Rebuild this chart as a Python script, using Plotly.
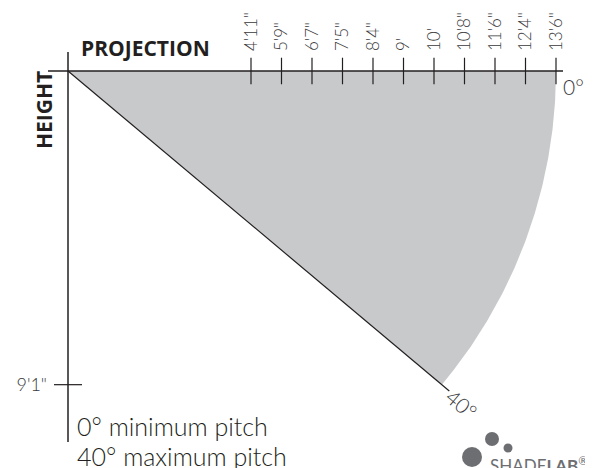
import numpy as np
import plotly.graph_objects as go

# ---- data ----
min_pitch = 0      # degrees
max_pitch = 40     # degrees
projection_labels = ["4'11\"", "5'9\"", "6'7\"", "7'5\"", "8'4\"", "9'", "10'",
                     "10'8\"", "11'6\"", "12'4\"", "13'6\""]
projection_ticks = [0.375, 0.4375, 0.5, 0.5625, 0.625, 0.6875, 0.75,
                    0.8125, 0.875, 0.9375, 1.0]   # fraction of full projection
height_labels = ["9'1\""]
height_ticks = [float(np.sin(np.radians(max_pitch)))]

OFF = 8                     # default page body margin
PW, PH = 593, 468           # page size
W, H = PW - OFF, PH - OFF   # figure size
# plot area in page pixels
PL, PR, PT, PB = 48, 563, 52, 442
L, T = PL - OFF, PT - OFF
R, B = W - (PR - OFF), H - (PB - OFF)
SCALE = 488.0  # px per unit
ox, oy = 68, 71  # origin, page pixels

def px(x):
    return (x - PL) / (PR - PL)

def py(y):
    return (PB - y) / (PB - PT)

xr = [(PL - ox) / SCALE, (PR - ox) / SCALE]
yr = [(PB - oy) / SCALE, (PT - oy) / SCALE]

fig = go.Figure()

# shaded sector
ang = np.radians(np.linspace(min_pitch, max_pitch, 120))
sx = np.concatenate([[0], np.cos(ang), [0]])
sy = np.concatenate([[0], np.sin(ang), [0]])
fig.add_trace(go.Scatter(x=sx, y=sy, mode="lines", fill="toself",
                         fillcolor="#c8c9cb", line=dict(width=0),
                         hoverinfo="skip", showlegend=False))

# max pitch line
a = np.radians(max_pitch)
fig.add_trace(go.Scatter(x=[0, 1.02 * np.cos(a)], y=[0, 1.02 * np.sin(a)],
                         mode="lines", line=dict(color="#231f20", width=1.2),
                         hoverinfo="skip", showlegend=False))

# tick marks crossing axes
fig.add_trace(go.Scatter(x=projection_ticks, y=[0] * len(projection_ticks),
                         mode="markers",
                         marker=dict(symbol="line-ns", size=19,
                                     line=dict(color="#231f20", width=1.2)),
                         hoverinfo="skip", showlegend=False, cliponaxis=False))
fig.add_trace(go.Scatter(x=[0] * len(height_ticks), y=height_ticks,
                         mode="markers",
                         marker=dict(symbol="line-ew", size=20,
                                     line=dict(color="#231f20", width=1.2)),
                         hoverinfo="skip", showlegend=False, cliponaxis=False))

# axis lines
fig.add_shape(type="line", xref="paper", yref="y", x0=0, x1=1, y0=0, y1=0,
              line=dict(color="#231f20", width=1.5), layer="above")
fig.add_shape(type="line", xref="x", yref="paper", x0=0, x1=0, y0=0, y1=1,
              line=dict(color="#231f20", width=1.5), layer="above")

thin = dict(family="Lato", size=17, color="#3a3a3c", weight=300)

fig.update_xaxes(range=xr, side="top", showgrid=False, zeroline=False,
                 showline=False, tickmode="array", tickvals=projection_ticks,
                 ticktext=projection_labels, tickangle=-90, ticks="",
                 tickfont=thin, automargin=False, fixedrange=True)
fig.update_yaxes(range=yr, showgrid=False, zeroline=False, showline=False,
                 tickmode="array", tickvals=height_ticks, ticktext=height_labels,
                 ticks="", tickfont=dict(family="Lato", size=18, color="#3a3a3c", weight=300),
                 automargin=False, fixedrange=True)

bold = dict(family="Open Sans", size=21, color="#231f20", weight="bold")
ann = []
ann.append(dict(text="PROJECTION", x=px(145), y=py(48), xref="paper", yref="paper",
                showarrow=False, font=bold, xanchor="center", yanchor="middle"))
ann.append(dict(text="HEIGHT", x=px(44), y=py(110), xref="paper", yref="paper",
                showarrow=False, font=bold, textangle=-90,
                xanchor="center", yanchor="middle"))
big = dict(family="Lato", size=21, color="#3a3a3c", weight=300)
ann.append(dict(text=f"{min_pitch}°", x=1.0, y=0.0, xref="x", yref="y",
                showarrow=False, font=big, xanchor="left", yanchor="top",
                xshift=5, yshift=-1))
ann.append(dict(text=f"{max_pitch}°", x=1.02 * np.cos(a), y=1.02 * np.sin(a),
                xref="x", yref="y", showarrow=False, font=big, textangle=max_pitch,
                xanchor="center", yanchor="middle", xshift=12, yshift=-13))
leg = dict(family="Lato", size=25, color="#231f20", weight=300)
ann.append(dict(text=f"{min_pitch}° minimum pitch", x=px(75), y=py(426),
                xref="paper", yref="paper", showarrow=False, font=leg,
                xanchor="left", yanchor="middle"))
ann.append(dict(text=f"{max_pitch}° maximum pitch", x=px(75), y=py(456),
                xref="paper", yref="paper", showarrow=False, font=leg,
                xanchor="left", yanchor="middle"))
# logo text
ann.append(dict(text="SHADE<b>LAB</b><sup>®</sup>", x=px(488), y=py(451),
                xref="paper", yref="paper", showarrow=False,
                font=dict(family="Lato", size=17, color="#6d6e71"),
                xanchor="left", yanchor="top"))
fig.update_layout(annotations=ann)

# logo circles
for cx, cy, r in [(472, 457, 10), (492, 439, 7), (508, 448, 4.5)]:
    fig.add_shape(type="circle", xref="paper", yref="paper",
                  x0=px(cx - r), x1=px(cx + r), y0=py(cy + r), y1=py(cy - r),
                  fillcolor="#6d6e71", line=dict(width=0))

fig.update_layout(width=W, height=H, margin=dict(l=L, r=R, t=T, b=B),
                  paper_bgcolor="white", plot_bgcolor="white",
                  showlegend=False)

fig.write_html("out.html")
